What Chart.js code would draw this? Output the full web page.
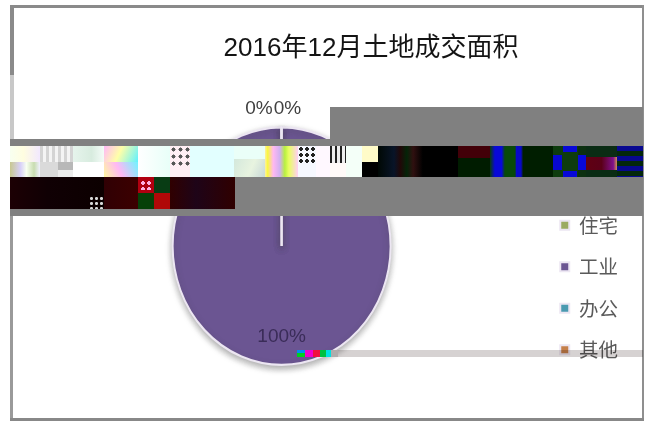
<!DOCTYPE html>
<html lang="zh">
<head>
<meta charset="utf-8">
<title>2016年12月土地成交面积</title>
<script src="https://cdn.jsdelivr.net/npm/chart.js@4"></script>
<style>
html,body{margin:0;padding:0;background:#fff}
#wrap{position:relative;width:647px;height:423px;overflow:hidden;filter:blur(.7px)}
canvas{position:absolute;left:0;top:0}
.t{position:absolute}
</style>
</head>
<body>
<div id="wrap"><canvas id="c" width="647" height="423"></canvas></div>
<script>
const chartTitle = '2016年12月土地成交面积';
const categories = ['商业', '综合', '住宅', '工业', '办公', '其他'];
const areaValues = [0.02, 0.02, 0.02, 99.88, 0.03, 0.03];
const sliceColors = ['#4f81bd', '#c0504d', '#9bab62', '#6b5592', '#4a9ab0', '#c5804a'];

const UI = "'Liberation Sans','Noto Sans CJK SC',sans-serif";
const stretchY = 1.09;

const stretchPlugin = {
  id: 'stretch',
  beforeDatasetsDraw(chart) {
    const a = chart.getDatasetMeta(0).data[0];
    const ctx = chart.ctx;
    ctx.save();
    ctx.translate(0, a.y);
    ctx.scale(1, stretchY);
    ctx.translate(0, -a.y);
    ctx.shadowColor = 'rgba(60,60,60,.4)';
    ctx.shadowBlur = 6;
    ctx.shadowOffsetY = 3;
  },
  afterDatasetsDraw(chart) { chart.ctx.restore(); }
};

const labelPlugin = {
  id: 'pctLabels',
  afterDatasetsDraw(chart) {
    const ctx = chart.ctx;
    const vals = chart.data.datasets[0].data;
    const total = vals.reduce((s, v) => s + v, 0);
    const seen = new Set();
    ctx.save();
    ctx.textBaseline = 'middle';
    chart.getDatasetMeta(0).data.forEach((arc, i) => {
      const pct = Math.round(vals[i] / total * 100);
      const mid = (arc.startAngle + arc.endAngle) / 2;
      const dx = Math.cos(mid), dy = Math.sin(mid);
      if (pct === 0) {
        const side = dx >= 0 ? 'right' : 'left';
        if (seen.has(side)) return;
        seen.add(side);
        ctx.font = '19px ' + UI;
        ctx.fillStyle = '#3f3f3f';
        ctx.textAlign = side === 'right' ? 'left' : 'right';
        ctx.fillText(pct + '%', arc.x + (side === 'right' ? -8 : -9), arc.y - arc.outerRadius * stretchY * 1.16);
      } else {
        ctx.font = '19px ' + UI;
        ctx.fillStyle = '#3a2c58';
        ctx.textAlign = 'center';
        ctx.fillText(pct + '%', arc.x + dx * arc.outerRadius * .76, arc.y + dy * arc.outerRadius * stretchY * .76);
      }
    });
    ctx.restore();
  }
};

const titleShift = {
  id: 'titleShift',
  beforeDraw(chart) { chart.titleBlock.left = 100; chart.titleBlock.right = 642; }
};

new Chart(document.getElementById('c'), {
  type: 'pie',
  plugins: [titleShift, stretchPlugin, labelPlugin],
  data: {
    labels: categories,
    datasets: [{
      data: areaValues,
      backgroundColor: sliceColors,
      borderColor: '#ece6f2',
      borderWidth: 2
    }]
  },
  options: {
    responsive: false,
    animation: false,
    radius: 109,
    layout: { padding: { left: 25, right: 19, top: 33, bottom: 41 } },
    plugins: {
      tooltip: { enabled: false },
      title: {
        display: true,
        text: chartTitle,
        color: '#141414',
        font: { family: UI, size: 26, weight: 'normal' },
        padding: { top: 0, bottom: 46 }
      },
      legend: {
        position: 'right',
        fullSize: false,
        labels: {
          boxWidth: 9,
          boxHeight: 9,
          padding: 22,
          color: '#5a5a5a',
          font: { family: "'Noto Sans CJK SC',sans-serif", size: 19.5 }
        }
      }
    }
  }
});

/* Damaged regions of the source picture, laid over the chart */
const G = '#808080';
const dots = (c, s) => `radial-gradient(circle, ${c} 38%, transparent 44%) 0 0/${s}px ${s}px`;
const overlay = [
  // frame
  [10,5,634,3,'#8a8a8a'], [10,5,4,70,'#8a8a8a'], [10,75,4,65,'#c8c8c8'], [10,216,3,204,'#9a9a9a'],
  [642,5,2,416,'#8f8f8f'], [10,418,634,3,'#888'],
  // grey bands
  [330,107,313,32,G], [10,139,633,7,G], [235,177,408,39,G], [10,209,225,7,G],
  // light row
  [10,146,30,16,'linear-gradient(90deg,#f8fff0,#fffde0 45%,#f2e8ff)'],
  [10,162,30,15,'linear-gradient(90deg,#c8c890,#d8d0f8 35%,#f8fff0 55%,#c8dcb0 80%,#f0f0ff)'],
  [40,146,33,16,'repeating-linear-gradient(90deg,#d4d4d4 0 3px,#f4f4f4 3px 6px)'],
  [40,162,18,15,'#dadada'], [58,162,15,8,'#b8b8b8'], [58,170,15,7,'#ececec'],
  [73,146,31,16,'linear-gradient(90deg,#e6f4ec,#d8ecdf 60%,#f4fcf8)'], [73,162,31,15,'#fff'],
  [104,146,34,16,'linear-gradient(115deg,#ffb8f8,#ffffa8 45%,#60f0ff)'],
  [104,162,34,15,'linear-gradient(65deg,#fff8a0,#ffb8f4 45%,#70f4ff)'],
  [138,146,32,31,'linear-gradient(90deg,#fff,#e8fff8)'],
  [170,146,20,31,'#ffeef4'], [170,146,20,22,dots('#555',7)],
  [190,146,44,31,'#e2ffff'],
  [234,146,31,13,'#eafff8'], [234,159,31,18,'linear-gradient(115deg,#d4e8dc,#e8f4e0 55%,#c8d8d8)'],
  [265,146,33,31,'linear-gradient(90deg,#fff0a0,#f8f840 8%,#ffb8f0 25%,#d0b0f0 45%,#b8f040 60%,#e8ff60 72%,#ffd0f4 100%)'],
  [298,146,18,31,'#f6f8ff'], [298,146,18,17,dots('#222',6)],
  [316,146,14,31,'#fff8ff'], [330,146,16,17,'repeating-linear-gradient(90deg,#222 0 2px,#eee 2px 5px)'],
  [330,163,16,14,'#fffaf8'], [346,146,16,31,'#f4fff8'], [362,146,16,16,'#fffbc8'],
  // dark row, right
  [362,162,16,15,'#000'], [378,146,80,31,'linear-gradient(90deg,#000804,#081428 20%,#200808 28%,#042408 36%,#301010 44%,#000 56%)'],
  [458,146,32,12,'#420008'], [458,158,32,19,'#001c00'],
  [490,146,33,31,'linear-gradient(90deg,#083c08,#0808d8 15%,#0808d8 35%,#084a08 45%,#084a08 76%,#0808c8 80%,#0808c8 94%,#042004)'],
  [523,146,30,31,'#001e00'], [553,146,33,31,'#0e3c0e'], [553,155,9,15,'#0808d0'], [563,146,14,6,'#0808d8'], [563,171,14,6,'#0808d8'],
  [578,146,8,31,'#0c3010'], [578,155,8,15,'#0808d8'],
  [586,146,31,31,'#0a2c14'], [586,157,31,13,'linear-gradient(90deg,#600012,#5a0018 50%,#80108a 88%,#d09050)'],
  [617,146,26,31,'repeating-linear-gradient(180deg,#080890 0 5px,#04280c 5px 10px)'],
  // dark row, left
  [10,177,94,32,'linear-gradient(90deg,#1c0004,#100004 40%,#0c0000)'],
  [89,196,18,13,dots('#d8d8d8',5)],
  [104,177,34,32,'linear-gradient(90deg,#300004,#3c0000)'],
  [138,177,16,16,'#b00010'], [154,177,16,16,'#083c14'], [138,193,16,16,'#064008'], [154,193,16,16,'#b00808'],
  [140,180,12,10,dots('#ffb0e0',6)],
  [170,177,65,32,'linear-gradient(90deg,#300000,#1e0418 40%,#300000)'],
  // strip and specks at the foot of the pie
  [297,350,8,7,'linear-gradient(#0090f0 50%,#00d020 50%)'], [305,350,8,7,'#f000d0'], [313,350,7,7,'#f01040'],
  [320,350,6,7,'#00c040'], [326,350,5,7,'#00e0e0'], [331,350,7,7,'#b0acac'],
  [338,350,305,7,'#d6d2d2','multiply']
];
const wrap = document.getElementById('wrap');
overlay.forEach(([x, y, w, h, bg, blend]) => {
  const d = document.createElement('div');
  d.className = 't';
  d.style.cssText = `left:${x}px;top:${y}px;width:${w}px;height:${h}px;background:${bg};` + (blend ? `mix-blend-mode:${blend};` : '');
  wrap.appendChild(d);
});
</script>
</body>
</html>
